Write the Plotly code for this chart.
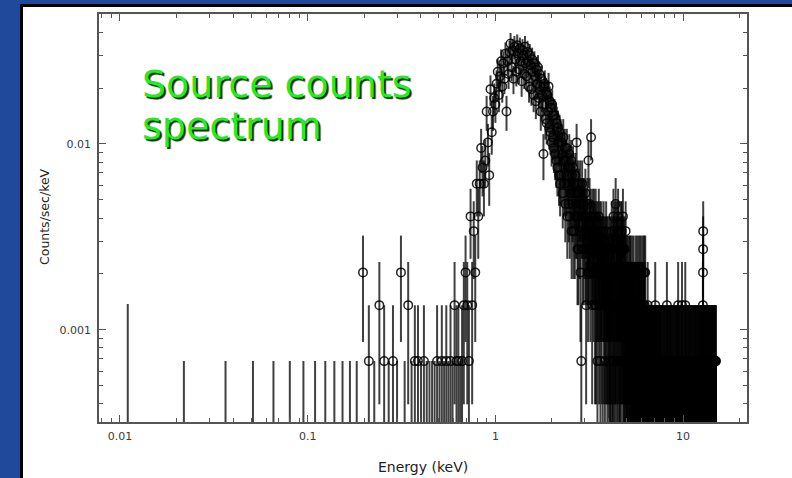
import numpy as np
import plotly.graph_objects as go

# ---------------- data ----------------
channel_width_keV = 0.0146          # spectral channel width
rate_per_count = 0.00068            # counts/sec/keV for one count in one channel
first_channel_energy_keV = 0.011    # first (half-width) channel
first_channel_rate_per_count = 0.00138

# counts per channel, channels 0-279 (0.01 - 4.1 keV)
counts_soft = [
    0, 0, 0, 0, 0, 0, 0, 0, 0, 0, 0, 0, 0, 3, 1, 0, 2, 1, 0, 1,
    0, 3, 0, 2, 0, 1, 1, 0, 1, 0, 0, 0, 0, 1, 0, 1, 0, 1, 0, 1,
    0, 2, 1, 1, 0, 1, 2, 3, 2, 1, 6, 2, 5, 3, 9, 6, 9, 14, 11, 9,
    12, 22, 15, 10, 29, 17, 22, 26, 24, 31, 36, 27, 34, 41, 30, 40, 33, 45, 22, 41,
    35, 46, 51, 38, 47, 33, 49, 42, 36, 50, 45, 37, 48, 41, 32, 47, 44, 35, 49, 40,
    34, 46, 41, 30, 44, 39, 29, 42, 36, 27, 40, 34, 25, 37, 31, 38, 26, 35, 30, 22,
    33, 27, 24, 13, 30, 31, 20, 28, 19, 27, 22, 30, 18, 25, 17, 23, 15, 24, 16, 21,
    14, 21, 13, 20, 12, 19, 11, 18, 15, 10, 17, 9, 16, 10, 15, 13, 8, 16, 12, 9,
    14, 7, 12, 9, 14, 6, 11, 10, 7, 13, 6, 11, 8, 12, 5, 10, 7, 11, 5, 9,
    8, 5, 10, 6, 8, 15, 6, 4, 9, 4, 8, 7, 5, 9, 3, 7, 1, 6, 9, 4,
    7, 6, 4, 7, 5, 6, 8, 4, 2, 6, 5, 7, 4, 3, 12, 5, 4, 7, 5, 3,
    6, 16, 4, 5, 2, 6, 4, 5, 3, 6, 4, 5, 2, 4, 6, 2, 5, 3, 4, 1,
    5, 3, 4, 6, 2, 4, 3, 5, 1, 4, 3, 5, 2, 4, 3, 0, 4, 3, 5, 2,
    3, 4, 1, 3, 4, 2, 5, 3, 2, 4, 0, 3, 2, 4, 3, 1, 3, 2, 4, 0,
]

# counts per channel, channels 280-1023 (4.1 - 15 keV), one digit per channel
counts_hard_rows = [
    "2413352041 3624153207 2435142361 5324013425 3152432614",
    "2301423152 2113023122 2031221302 3120221312 1203122021",
    "1203121021 3012102312 0211320102 1302110213 0121031201",
    "3101011001 1012010010 1100101001 0101100101 1001010010",
    "0100102100 1001001010 0010010001 0100010100 1000100010",
    "0010001000 1000010010 0001000001 0200100010 0010000100",
    "1000100001 0001001000 0100000100 1000100000 0010010001",
    "0000100010 0000200100 1000001000 0010000010 0100020000",
    "1000010000 0010000100 0002000100 1000001000 0001000010",
    "0100000100 0000100001 0010000010 0000010000 1000001000",
    "0001000001 0010000100 0000100000 1000010001 0000100000",
    "0100001000 0001000010 0010000001 0000100100 0102345100",
    "1000010000 0100000100 0001000001 0010000010 0000100000",
    "1000001000 0010000001 0000100000 0100001000 0001000010",
    "0000010000 1000000100 0010000000 0100001000 0011",
]

x_tick_vals = [0.01, 0.1, 1, 10]
x_tick_text = ["0.01", "0.1", "1", "10"]
y_tick_vals = [0.001, 0.01]
y_tick_text = ["0.001", "0.01"]

# ---------------- derived arrays ----------------
counts = np.array(counts_soft + [int(c) for row in counts_hard_rows for c in row if c.isdigit()])
energy = (np.arange(counts.size) + 0.5) * channel_width_keV
energy[0] = first_channel_energy_keV
rpc = np.full(counts.size, rate_per_count)
rpc[0] = first_channel_rate_per_count

det = counts > 0
rate = counts * rpc
err = np.sqrt(counts) * rpc

x_range = [np.log10(0.00773), np.log10(21.9)]
y_range = [np.log10(0.00032), np.log10(0.05)]

x_minor = [k * 10.0 ** e for e in (-3, -2, -1, 0, 1) for k in range(2, 10)]
x_minor = [v for v in x_minor if 10 ** x_range[0] < v < 10 ** x_range[1]]
y_minor = [k * 10.0 ** e for e in (-4, -3, -2) for k in range(2, 10)]
y_minor = [v for v in y_minor if 10 ** y_range[0] < v < 10 ** y_range[1]]

bar_color = "rgba(0,0,0,0.75)"

fig = go.Figure()

# empty channels: upper-limit bars from the bottom of the plot
fig.add_trace(go.Scatter(
    x=energy[~det], y=np.full((~det).sum(), 1e-7),
    mode="markers", marker=dict(size=1, opacity=0),
    error_y=dict(type="data", symmetric=False, array=rpc[~det],
                 arrayminus=np.zeros((~det).sum()), width=0,
                 thickness=2, color=bar_color),
    hoverinfo="skip", showlegend=False,
))

# channels with counts: open circles with Poisson error bars
fig.add_trace(go.Scatter(
    x=energy[det], y=rate[det],
    mode="markers",
    marker=dict(symbol="circle-open", size=8.5, color="rgba(0,0,0,0.85)",
                line=dict(width=1.5)),
    error_y=dict(type="data", symmetric=True, array=err[det], width=0,
                 thickness=2, color=bar_color),
    showlegend=False,
))

L, R, T, B = 99, 45, 14, 56
W, H = 792, 478
pw, ph = W - L - R, H - T - B


def px(xp):
    return (xp - L) / pw


def py(yp):
    return (H - B - yp) / ph


axis_line = "#555555"
tick_font = dict(family="DejaVu Sans", size=11, color="#3a3a3a")

fig.update_xaxes(
    type="log", range=x_range, showgrid=False, zeroline=False,
    showline=True, linecolor=axis_line, linewidth=1.5, mirror="allticks",
    ticks="inside", ticklen=7, tickwidth=1.2, tickcolor=axis_line,
    tickmode="array", tickvals=x_tick_vals, ticktext=x_tick_text,
    tickfont=tick_font, ticklabelstandoff=3,
    minor=dict(ticks="inside", ticklen=4, tickwidth=1, tickcolor=axis_line,
               showgrid=False, tickmode="array", tickvals=x_minor),
)
fig.update_yaxes(
    type="log", range=y_range, showgrid=False, zeroline=False,
    showline=True, linecolor=axis_line, linewidth=1.5, mirror="allticks",
    ticks="inside", ticklen=7, tickwidth=1.2, tickcolor=axis_line,
    tickmode="array", tickvals=y_tick_vals, ticktext=y_tick_text,
    tickfont=tick_font, ticklabelstandoff=4,
    minor=dict(ticks="inside", ticklen=4, tickwidth=1, tickcolor=axis_line,
               showgrid=False, tickmode="array", tickvals=y_minor),
)

shapes = [
    dict(type="rect", xref="paper", yref="paper", layer="below",
         x0=px(20), x1=1.3, y0=-0.4, y1=py(4),
         fillcolor="#000000", line=dict(width=0)),
    dict(type="rect", xref="paper", yref="paper", layer="below",
         x0=px(23), x1=1.3, y0=-0.4, y1=py(7),
         fillcolor="#ffffff", line=dict(width=0)),
]

title_font = dict(family="DejaVu Sans", color="#222222")
green_font = dict(family="DejaVu Sans", size=38, color="#1ef01e",
                  shadow="2px 2px 1px rgba(0,0,0,0.9)")

annotations = [
    dict(text="Energy (keV)", xref="paper", yref="paper", x=px(423), y=py(467),
         xanchor="center", yanchor="middle", showarrow=False,
         font=dict(size=14, **title_font)),
    dict(text="Counts/sec/keV", xref="paper", yref="paper", x=px(44), y=py(217),
         xanchor="center", yanchor="middle", textangle=-90, showarrow=False,
         font=dict(size=12.5, **title_font)),
    dict(text="Source counts", xref="paper", yref="paper", x=px(140), y=py(84),
         xanchor="left", yanchor="middle", showarrow=False, font=green_font),
    dict(text="spectrum", xref="paper", yref="paper", x=px(140), y=py(126),
         xanchor="left", yanchor="middle", showarrow=False, font=green_font),
]

fig.update_layout(
    width=W, height=H, autosize=False,
    margin=dict(l=L, r=R, t=T, b=B, pad=0),
    paper_bgcolor="#21499b", plot_bgcolor="#ffffff",
    shapes=shapes, annotations=annotations,
    showlegend=False,
)

fig.write_html(
    "out.html",
    config={"displayModeBar": False},
    post_script="document.body.style.margin='0';document.body.style.overflow='hidden';",
)
